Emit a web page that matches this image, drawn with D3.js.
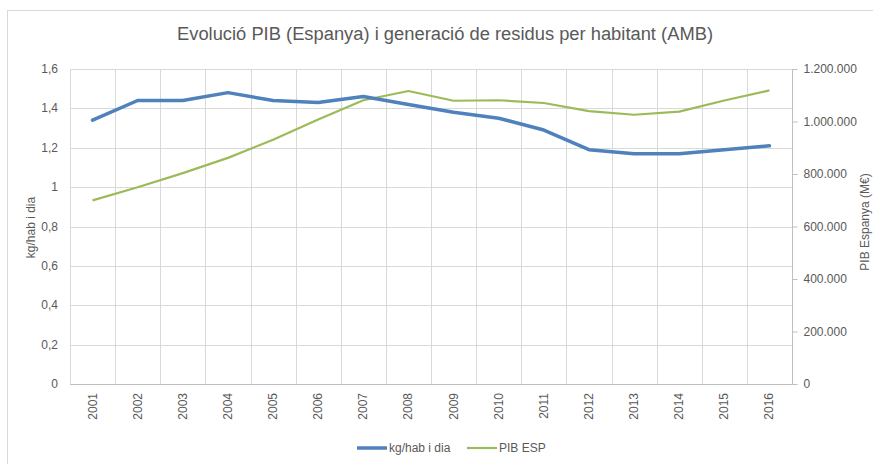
<!DOCTYPE html>
<html><head><meta charset="utf-8">
<script src="https://cdn.jsdelivr.net/npm/d3@7"></script>
<style>body{margin:0;background:#fff;} svg{display:block;font-family:"Liberation Sans",Arial,sans-serif;}</style>
</head><body>
<svg id="c" width="873" height="464"></svg>
<script>
const years = ["2001","2002","2003","2004","2005","2006","2007","2008","2009","2010","2011","2012","2013","2014","2015","2016"];
const residus = [1.34,1.44,1.44,1.48,1.44,1.43,1.46,1.42,1.38,1.35,1.29,1.19,1.17,1.17,1.19,1.21];
const pib = [699500,749300,803500,861400,930600,1008000,1080800,1116200,1079000,1080900,1070400,1039800,1025700,1037800,1080000,1118500];
const leftTicks = [0,0.2,0.4,0.6,0.8,1,1.2,1.4,1.6];
const rightTicks = [0,200000,400000,600000,800000,1000000,1200000];
const title = "Evolució PIB (Espanya) i generació de residus per habitant (AMB)";
const leftTitle = "kg/hab i dia";
const rightTitle = "PIB Espanya (M€)";
const seriesNames = ["kg/hab i dia","PIB ESP"];

const svg = d3.select("#c");
const L=70, R=792, T=69, B=384;
const textCol="#595959", gridCol="#d9d9d9";

// chart border
svg.append("rect").attr("x",7.5).attr("y",10.5).attr("width",900).attr("height",470)
  .attr("fill","none").attr("stroke","#d9d9d9");

const x = d3.scaleBand().domain(years).range([L,R]);
const yL = d3.scaleLinear().domain([0,1.6]).range([B,T]);
const yR = d3.scaleLinear().domain([0,1200000]).range([B,T]);

// horizontal grid
svg.append("g").selectAll("line").data(leftTicks).join("line")
  .attr("x1",L).attr("x2",R).attr("y1",d=>Math.round(yL(d))+0.5).attr("y2",d=>Math.round(yL(d))+0.5)
  .attr("stroke",gridCol);
// vertical grid at category boundaries
const bounds = years.map(y=>x(y)).concat([R]);
svg.append("g").selectAll("line").data(bounds).join("line")
  .attr("x1",d=>Math.round(d)+0.5).attr("x2",d=>Math.round(d)+0.5).attr("y1",T).attr("y2",B)
  .attr("stroke",gridCol);

// left axis labels
const fmt = d3.formatLocale({decimal:",",thousands:".",grouping:[3],currency:["","€"]});
const fL = v => v===0||v===1 ? String(v) : fmt.format(".1f")(v);
svg.append("g").selectAll("text").data(leftTicks).join("text")
  .attr("x",58).attr("y",d=>yL(d)+4).attr("text-anchor","end")
  .attr("font-size",12).attr("fill",textCol).text(fL);

// right axis
const gR = svg.append("g").attr("transform",`translate(${R+0.5},0)`)
  .call(d3.axisRight(yR).tickValues(rightTicks).tickSize(5).tickPadding(6).tickFormat(fmt.format(",d")));
gR.select(".domain").attr("stroke","#bfbfbf").attr("d",`M0,${T}V${B}`);
gR.selectAll(".tick line").attr("stroke","#bfbfbf");
gR.selectAll(".tick text").attr("fill",textCol).attr("font-size",12).attr("font-family","Liberation Sans, Arial, sans-serif");

// bottom axis line
svg.append("line").attr("x1",L).attr("x2",R+5).attr("y1",B+0.5).attr("y2",B+0.5).attr("stroke","#bfbfbf");

// x labels
svg.append("g").selectAll("text").data(years).join("text")
  .attr("transform",d=>`translate(${x(d)+x.bandwidth()/2+4},${393}) rotate(-90)`)
  .attr("text-anchor","end").attr("font-size",12).attr("fill",textCol).text(d=>d);

// lines
const lineL = d3.line().x((d,i)=>x(years[i])+x.bandwidth()/2).y(d=>yL(d));
const lineR = d3.line().x((d,i)=>x(years[i])+x.bandwidth()/2).y(d=>yR(d));
svg.append("path").datum(pib).attr("d",lineR).attr("fill","none").attr("stroke","#9bbb59").attr("stroke-width",2.2).attr("stroke-linejoin","round");
svg.append("path").datum(residus).attr("d",lineL).attr("fill","none").attr("stroke","#4f81bd").attr("stroke-width",3.5).attr("stroke-linejoin","round").attr("stroke-linecap","round");

// title
svg.append("text").attr("x",445).attr("y",40).attr("text-anchor","middle")
  .attr("font-size",18).attr("fill",textCol).attr("textLength",536).attr("lengthAdjust","spacingAndGlyphs").text(title);

// axis titles
svg.append("text").attr("transform",`translate(35,${(T+B)/2+1}) rotate(-90)`).attr("text-anchor","middle")
  .attr("font-size",12).attr("fill",textCol).text(leftTitle);
svg.append("text").attr("transform",`translate(869,222) rotate(-90)`).attr("text-anchor","middle")
  .attr("font-size",12).attr("fill",textCol).text(rightTitle);

// legend
const leg = [{n:seriesNames[0],c:"#4f81bd",w:3.5,x:357},{n:seriesNames[1],c:"#9bbb59",w:2.2,x:467}];
const lg = svg.append("g").selectAll("g").data(leg).join("g");
lg.append("line").attr("x1",d=>d.x).attr("x2",d=>d.x+30).attr("y1",448).attr("y2",448).attr("stroke",d=>d.c).attr("stroke-width",d=>d.w);
lg.append("text").attr("x",d=>d.x+32).attr("y",452).attr("font-size",12).attr("fill",textCol).text(d=>d.n);
</script>
</body></html>
